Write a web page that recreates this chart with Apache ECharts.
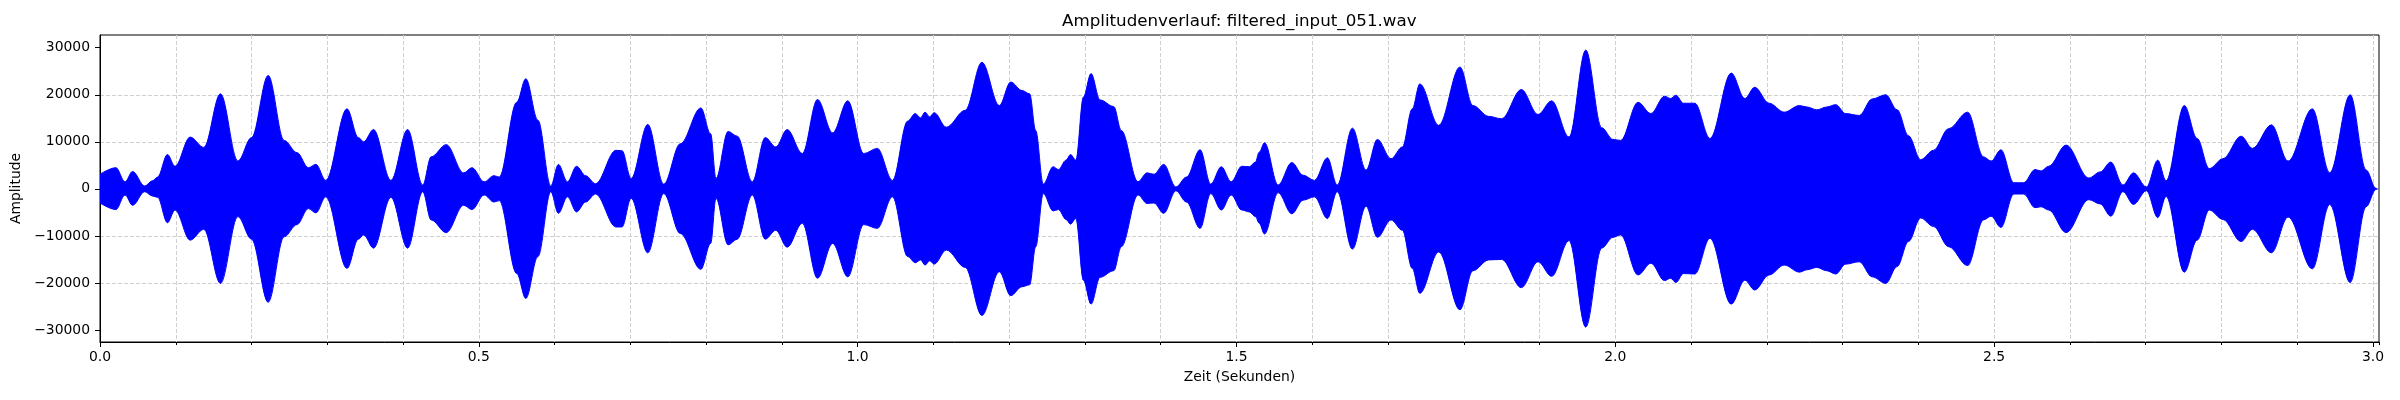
<!DOCTYPE html>
<html>
<head>
<meta charset="utf-8">
<script src="https://cdn.jsdelivr.net/npm/echarts@6/dist/echarts.min.js"></script>
<style>
html, body { margin: 0; padding: 0; background: #fff; }
#main { width: 2400px; height: 400px; }
</style>
</head>
<body>
<div id="main"></div>
<script>
// envelope of the waveform (seconds / amplitude)
var times = [
	0, 0.021, 0.033, 0.043, 0.059, 0.069, 0.076, 0.089, 0.099, 0.119,
	0.137, 0.159, 0.182, 0.200, 0.222, 0.243, 0.260, 0.275, 0.285, 0.298,
	0.326, 0.341, 0.348, 0.361, 0.384, 0.406, 0.426, 0.437, 0.457, 0.480,
	0.491, 0.507, 0.520, 0.527, 0.550, 0.562, 0.578, 0.595, 0.605, 0.617,
	0.629, 0.641, 0.654, 0.681, 0.689, 0.701, 0.723, 0.744,
	0.766, 0.793, 0.806, 0.813, 0.829, 0.841, 0.861, 0.878, 0.892, 0.907,
	0.927, 0.947, 0.967, 0.987, 1.008, 1.026, 1.046, 1.066, 1.076, 1.083,
	1.089, 1.095, 1.101, 1.117, 1.142, 1.164, 1.187, 1.202, 1.217, 1.227,
	1.235, 1.245, 1.258, 1.265, 1.275, 1.281, 1.288, 1.298, 1.308, 1.320,
	1.338, 1.348, 1.370, 1.382, 1.391, 1.404, 1.420, 1.434, 1.452, 1.466,
	1.480, 1.493,
	1.507, 1.517, 1.525, 1.530, 1.537, 1.555, 1.573, 1.588, 1.603, 1.620,
	1.633, 1.653, 1.671, 1.686, 1.704, 1.719, 1.732, 1.742, 1.767, 1.795,
	1.812, 1.833, 1.850, 1.876, 1.898, 1.916, 1.939, 1.961, 1.982, 1.997,
	2.007, 2.030, 2.047, 2.065, 2.073, 2.080, 2.090, 2.105, 2.125, 2.153,
	2.171, 2.184, 2.203,
	2.223, 2.243, 2.253, 2.266, 2.279, 2.291, 2.304, 2.322, 2.339, 2.357,
	2.372, 2.387, 2.403, 2.420, 2.440, 2.465, 2.486, 2.496, 2.509, 2.526,
	2.539, 2.554, 2.562, 2.572, 2.595, 2.625, 2.640, 2.654, 2.670, 2.684,
	2.701, 2.716, 2.727, 2.751, 2.768, 2.784, 2.802, 2.826, 2.841, 2.866,
	2.888, 2.920, 2.943, 2.970, 2.991, 3.004, 3.006
];
var upperEnv = [
	3100, 4500, 1500, 3700, 600, 1700, 2500, 7300, 4800, 11000,
	8800, 20200, 5900, 10900, 24100, 10300, 7700, 4500, 5200, 1800,
	17000, 10900, 10000, 12600, 1800, 12600, 800, 6800, 9400, 3400,
	4500, 1500, 2800, 2500, 18400, 23400, 14600, 600, 5200, 1500,
	4800, 2800, 1100, 8200, 8100, 2200, 13700, 1000,
	9600, 17200, 11700, 2200, 12200, 11200, 1500, 10900, 8900, 12600,
	7500, 19000, 11900, 18700, 7500, 8600, 1800, 14400, 16000, 15100,
	16300, 15300, 16200, 13100, 16700, 26900, 17700, 22700, 20900, 20200,
	12400, 1000, 4700, 4100, 6100, 7300, 6100, 19500, 24500, 18900,
	17500, 12400, 1500, 3400, 3100, 5200, 400, 2500, 8300, 1000,
	4700, 1500,
	4800, 4700, 5700, 7800, 9800, 800, 5600, 2900, 1800, 6600,
	800, 12900, 4000, 10500, 6400, 8900, 17000, 22300, 13500, 25900,
	17700, 15400, 14900, 21100, 15800, 18700, 11000, 29500, 13000, 10500,
	10300, 18400, 16000, 19700, 19200, 19900, 18200, 18200, 10700, 24600,
	19200, 21600, 18200,
	16300, 17700, 17400, 16800, 17400, 17900, 16000, 15600, 19100, 20000,
	16800, 11300, 6200, 8200, 12800, 16300, 6800, 5900, 8300, 1300,
	1300, 4100, 3800, 4800, 9300, 2300, 3600, 5700, 800, 3400,
	400, 6100, 1700, 17700, 10700, 4300, 6400, 11200, 8600, 13600,
	5900, 17000, 3400, 20000, 4000, 100, 0
];
var lowerEnv = [
	-3000, -4400, -1300, -3500, -600, -1500, -1800, -7200, -4500, -10900,
	-8600, -20100, -5900, -10700, -24100, -10200, -7600, -4200, -5100, -1700,
	-16900, -10700, -9800, -12600, -1800, -12600, -600, -6600, -9300, -3500,
	-4400, -1300, -2800, -2500, -18000, -23300, -14400, -600, -5200, -1700,
	-4900, -2800, -1100, -8100, -8100, -2000, -13600, -1000,
	-9500, -17100, -11600, -2000, -11900, -10700, -1300, -10700, -8800, -12400,
	-7300, -19000, -11600, -18700, -7600, -8400, -1700, -14400, -15700, -15100,
	-16200, -15300, -16000, -13000, -16700, -26900, -17600, -22700, -20800, -20400,
	-12300, -1000, -4700, -4400, -6500, -7500, -6300, -19400, -24500, -18800,
	-17400, -12300, -1300, -3100, -3000, -5200, -400, -2800, -8400, -1000,
	-4500, -1300,
	-4500, -4900, -5900, -7300, -9600, -800, -5300, -2400, -1700, -6300,
	-600, -12800, -3700, -10300, -6600, -8800, -16900, -22200, -13400, -25700,
	-17400, -15100, -15000, -21000, -15500, -18600, -11000, -29400, -12600, -10300,
	-9800, -18300, -15800, -19500, -19000, -19900, -18000, -18100, -10500, -24500,
	-19400, -21500, -18300,
	-16200, -17700, -17200, -16700, -17400, -18100, -16000, -15500, -18700, -20100,
	-16500, -11200, -6200, -8000, -12300, -16300, -6600, -5800, -8200, -1100,
	-1100, -4000, -3800, -4500, -9300, -2300, -3200, -5800, -600, -3300,
	-400, -6100, -1600, -17700, -10900, -4500, -6500, -11200, -8600, -13600,
	-6000, -17000, -3300, -19900, -3800, -100, 0
];
var xMajorTicks = [0, 0.5, 1.0, 1.5, 2.0, 2.5, 3.0];
var yTicks = [-30000, -20000, -10000, 0, 10000, 20000, 30000];

var font = 'DejaVu Sans';
var gridLine = { color: '#cfcfcf', width: 1, type: [4, 2] };

var upperData = times.map(function (t, i) { return [t, upperEnv[i]]; });
var lowerData = times.map(function (t, i) { return [t, lowerEnv[i]]; });

var myChart = echarts.init(document.getElementById('main'));

// each half is filled a little past zero so the two halves overlap without a seam
function waveSeries(name, data, origin) {
	return {
		name: name,
		type: 'line',
		data: data,
		smooth: 0.35,
		smoothMonotone: 'x',
		symbol: 'none',
		silent: true,
		animation: false,
		lineStyle: { color: '#0000ff', width: 1 },
		areaStyle: { color: '#0000ff', opacity: 1, origin: origin }
	};
}

var option = {
	backgroundColor: '#fff',
	animation: false,
	title: {
		text: 'Amplitudenverlauf: filtered_input_051.wav',
		left: 1062,
		top: 13,
		padding: 0,
		textStyle: { fontFamily: font, fontSize: 16.7, fontWeight: 'normal', color: '#000' }
	},
	grid: {
		left: 100,
		right: 21,
		top: 35,
		bottom: 58,
		show: true,
		borderColor: '#000',
		borderWidth: 1,
		backgroundColor: 'transparent'
	},
	xAxis: [{
		type: 'value',
		min: 0,
		max: 3.008,
		position: 'bottom',
		name: 'Zeit (Sekunden)',
		nameLocation: 'middle',
		nameGap: 28,
		nameTextStyle: { fontFamily: font, fontSize: 13.9, color: '#000' },
		axisLine: { show: true, onZero: false, lineStyle: { color: '#000', width: 1 } },
		axisTick: { show: true, length: 5, customValues: xMajorTicks, lineStyle: { color: '#000' } },
		axisLabel: {
			customValues: xMajorTicks,
			margin: 8,
			color: '#000',
			fontFamily: font,
			fontSize: 13.9,
			formatter: function (v) { return v.toFixed(1); }
		},
		splitLine: { show: false }
	}, {
		// minor ticks and vertical grid every 0.1 s
		type: 'value',
		min: 0,
		max: 3.008,
		interval: 0.1,
		position: 'bottom',
		axisLine: { show: false, onZero: false },
		axisTick: { show: true, length: 3, lineStyle: { color: '#000' } },
		axisLabel: { show: false },
		splitLine: { show: true, showMinLine: false, showMaxLine: false, lineStyle: gridLine }
	}],
	yAxis: {
		type: 'value',
		min: -32550,
		max: 32700,
		name: 'Amplitude',
		nameLocation: 'middle',
		nameGap: 72,
		nameTextStyle: { fontFamily: font, fontSize: 13.9, color: '#000' },
		axisLine: { show: true, lineStyle: { color: '#000', width: 1 } },
		axisTick: { show: true, length: 5, customValues: yTicks, lineStyle: { color: '#000' } },
		axisLabel: {
			customValues: yTicks,
			margin: 10,
			color: '#000',
			fontFamily: font,
			fontSize: 13.9,
			formatter: function (v) { return v < 0 ? '\u2212' + Math.abs(v) : String(v); }
		},
		splitLine: { show: true, showMinLine: false, showMaxLine: false, lineStyle: gridLine }
	},
	series: [
		waveSeries('upper', upperData, -300),
		waveSeries('lower', lowerData, 300)
	]
};

myChart.setOption(option);
</script>
</body>
</html>
